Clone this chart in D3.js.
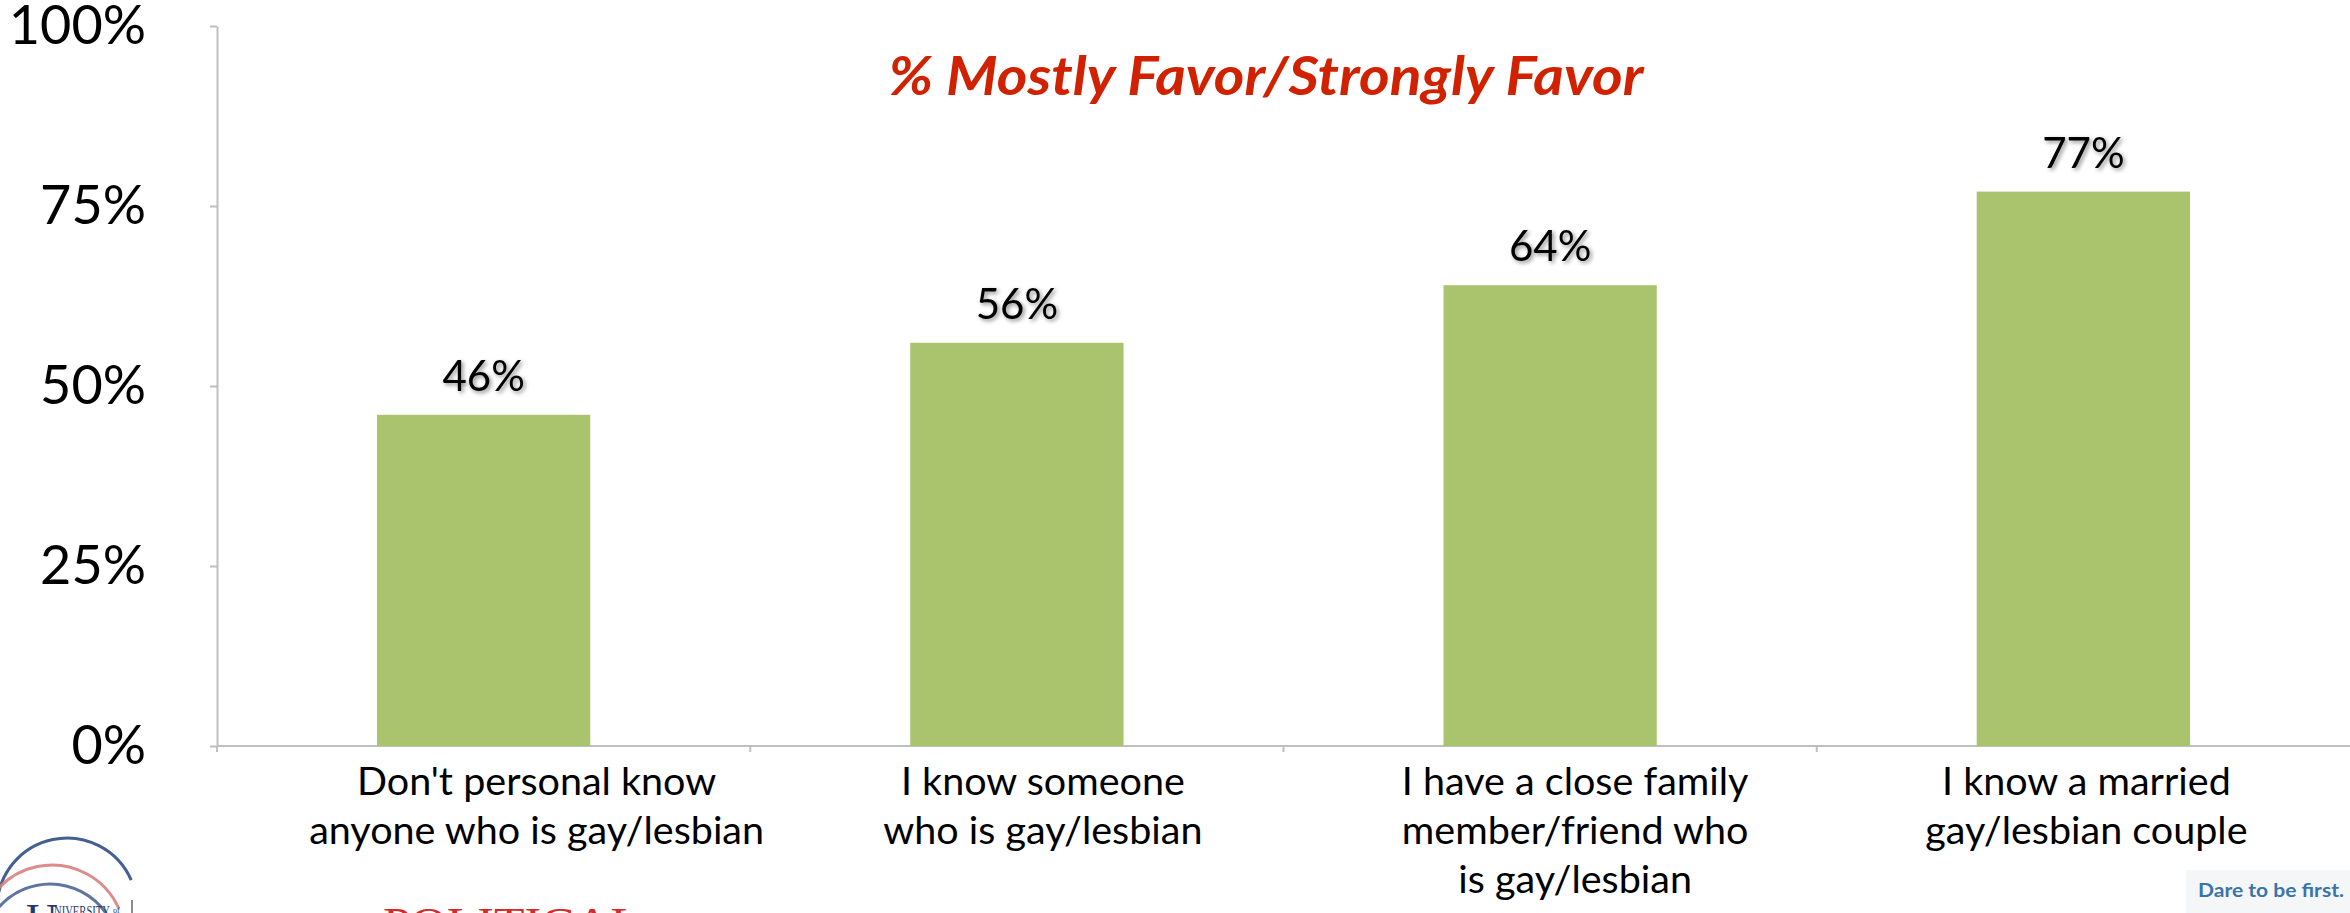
<!DOCTYPE html>
<html>
<head>
<meta charset="utf-8">
<script src="https://cdn.jsdelivr.net/npm/d3@7"></script>
<style>
  html, body { margin: 0; padding: 0; background: #ffffff; }
  svg { display: block; }
</style>
</head>
<body>
<svg id="chart" width="2350" height="913"></svg>
<script>
// ---- data ----
const categories = ["none", "someone", "family", "married"];
const categoryLines = [
  ["Don't personal know", "anyone who is gay/lesbian"],
  ["I know someone", "who is gay/lesbian"],
  ["I have a close family", "member/friend who", "is gay/lesbian"],
  ["I know a married", "gay/lesbian couple"]
];
const values = [46, 56, 64, 77];
const yTicks = [0, 25, 50, 75, 100];
const chartTitle = "% Mostly Favor/Strongly Favor";
const footerText = "Dare to be first.";

// ---- layout / style ----
const plot = { left: 217, right: 2350, top: 26, bottom: 746 };
const labelNudge = [53, 26, 25, 3]; // horizontal nudge of wrapped category labels (px)
const axisColor = "#BFBFBF";
const barColor = "#AAC46D";
const titleColor = "#D02200";
const font = "Lato, 'Open Sans', sans-serif";

const svg = d3.select("#chart");

const defs = svg.append("defs");
const f = defs.append("filter").attr("id", "shadow")
  .attr("x", "-20%").attr("y", "-30%").attr("width", "140%").attr("height", "160%");
f.append("feDropShadow").attr("dx", 2).attr("dy", 2).attr("stdDeviation", 2.2)
  .attr("flood-color", "#000").attr("flood-opacity", 0.45);

const x = d3.scaleBand().domain(categories)
  .range([plot.left, plot.right]).paddingInner(0.6).paddingOuter(0.3);
const y = d3.scaleLinear().domain([0, 100]).range([plot.bottom, plot.top]);

// y axis
const yAxis = d3.axisLeft(y).tickValues(yTicks).tickSize(7).tickSizeOuter(0)
  .tickPadding(64).tickFormat(d => d + "%");
const gy = svg.append("g").attr("transform", `translate(${plot.left},0)`).call(yAxis);
gy.selectAll("path, line").attr("stroke", axisColor).attr("stroke-width", 2);
gy.selectAll("text").attr("font-family", font).attr("font-size", 54).attr("fill", "#000");

// x axis
const gx = svg.append("g");
gx.append("line").attr("x1", plot.left).attr("x2", plot.right)
  .attr("y1", y(0)).attr("y2", y(0)).attr("stroke", axisColor).attr("stroke-width", 2);
const boundaries = categories.map(c => x(c) - x.step() * x.paddingInner() / 2);
gx.selectAll("line.tick").data(boundaries).join("line").attr("class", "tick")
  .attr("x1", d => d).attr("x2", d => d)
  .attr("y1", y(0)).attr("y2", y(0) + 6)
  .attr("stroke", axisColor).attr("stroke-width", 2);

// bars
svg.append("g").selectAll("rect").data(values).join("rect")
  .attr("x", (d, i) => x(categories[i]))
  .attr("width", x.bandwidth())
  .attr("y", d => y(d))
  .attr("height", d => y(0) - y(d))
  .attr("fill", barColor);

// value labels
svg.append("g").selectAll("text").data(values).join("text")
  .attr("x", (d, i) => x(categories[i]) + x.bandwidth() / 2)
  .attr("y", d => y(d) - 24)
  .attr("text-anchor", "middle")
  .attr("font-family", font).attr("font-size", 42)
  .attr("fill", "#000").attr("filter", "url(#shadow)")
  .text(d => d + "%");

// category labels
const catG = svg.append("g");
categoryLines.forEach((lines, i) => {
  const cx = x(categories[i]) + x.bandwidth() / 2 + labelNudge[i];
  const t = catG.append("text").attr("text-anchor", "middle")
    .attr("font-family", font).attr("font-size", 39.5).attr("fill", "#000");
  lines.forEach((ln, j) => {
    t.append("tspan").attr("x", cx).attr("y", 795 + j * 49).text(ln);
  });
});

// title
svg.append("text")
  .attr("x", 1266).attr("y", 95)
  .attr("text-anchor", "middle")
  .attr("font-family", font).attr("font-size", 54)
  .attr("font-weight", "bold").attr("font-style", "italic")
  .attr("fill", titleColor)
  .attr("textLength", 755).attr("lengthAdjust", "spacingAndGlyphs")
  .text(chartTitle);

// footer: "Dare to be first."
svg.append("rect").attr("x", 2186).attr("y", 870).attr("width", 164).attr("height", 43)
  .attr("fill", "#F5F6F7");
svg.append("text").attr("x", 2198).attr("y", 897)
  .attr("font-family", font).attr("font-size", 19).attr("font-weight", "bold")
  .attr("fill", "#3B74A8").attr("textLength", 146).attr("lengthAdjust", "spacingAndGlyphs")
  .text(footerText);

// logo (bottom-left)
const logo = svg.append("g");
const arcs = [
  { cx: 67, cy: 908, r: 70, color: "#2F4F86" },
  { cx: 52, cy: 938, r: 73, color: "#D98080" },
  { cx: 50, cy: 952, r: 68, color: "#4A6795" }
];
arcs.forEach(a => {
  const p = d3.path();
  p.arc(a.cx, a.cy, a.r, Math.PI * 1.0, Math.PI * 1.87);
  logo.append("path").attr("d", p.toString()).attr("fill", "none")
    .attr("stroke", a.color).attr("stroke-width", 3).attr("opacity", 0.9);
});
logo.append("text").attr("x", 26).attr("y", 934)
  .attr("font-family", "'Liberation Serif', serif").attr("font-size", 44)
  .attr("fill", "#1F3A6E").text("U");
logo.append("text").attr("x", 54).attr("y", 916)
  .attr("font-family", "'Liberation Serif', serif").attr("font-size", 15)
  .attr("fill", "#1F3A6E").attr("textLength", 56).attr("lengthAdjust", "spacingAndGlyphs")
  .text("NIVERSITY");
logo.append("text").attr("x", 113).attr("y", 913)
  .attr("font-family", "'Liberation Serif', serif").attr("font-size", 8)
  .attr("fill", "#1F3A6E").text("of");
logo.append("line").attr("x1", 132).attr("x2", 132).attr("y1", 900).attr("y2", 913)
  .attr("stroke", "#666").attr("stroke-width", 1.5);
logo.append("text").attr("x", 383).attr("y", 938)
  .attr("font-family", "'Liberation Serif', serif").attr("font-size", 44)
  .attr("fill", "#D42A2A").attr("textLength", 258).attr("lengthAdjust", "spacingAndGlyphs")
  .text("POLITICAL");
</script>
</body>
</html>
